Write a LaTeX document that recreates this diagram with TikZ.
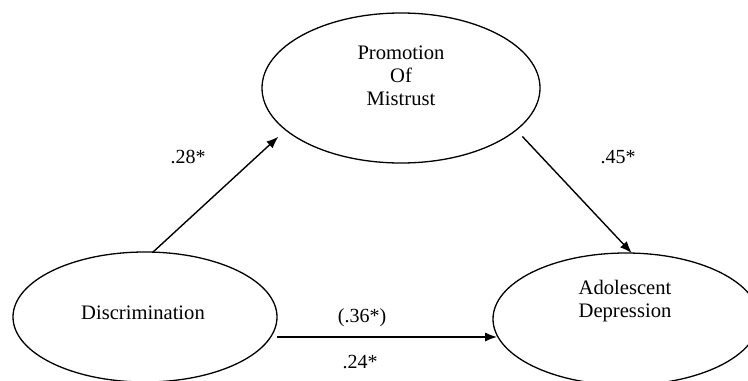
\documentclass[tikz,border=0pt]{standalone}
\usepackage{fontspec}
\setmainfont{Liberation Serif}
\usetikzlibrary{shapes.geometric,arrows.meta,calc}
\begin{document}
\begin{tikzpicture}[x=0.5pt,y=-0.5pt,
  oval/.style={draw, ellipse, line width=0.65pt, inner sep=0pt, outer sep=0pt},
  txt/.style={font=\fontsize{10.3}{11.5}\selectfont, align=center, inner sep=0pt},
  lab/.style={font=\fontsize{10}{12}\selectfont, inner sep=0pt},
  arr/.style={-{Latex[length=6pt,width=4.6pt]}, line width=0.7pt}]
\useasboundingbox (0,0) rectangle (748,380);
\clip (0,0) rectangle (748,380);
\node[oval, minimum width=139pt, minimum height=75pt] (pm) at (401,88) {};
\node[oval, minimum width=132pt, minimum height=65pt] (disc) at (145,317) {};
\node[oval, minimum width=133pt, minimum height=66pt] (adol) at (626,319) {};
\node[txt] (pmtxt) at (401,76) {Promotion\\Of\\Mistrust};
\node[txt] (disctxt) at (143,313) {Discrimination};
\node[txt] (adoltxt) at (625,301) {Adolescent\\Depression};
\draw[arr, shorten >=5pt] (disc.83) -- (pm.200);
\draw[arr, shorten <=4.5pt] (pm.340) -- (adol.85);
\coordinate (h1) at ($(disc.east)+(0,20)$);
\draw[arr] (h1) -- ([xshift=2pt]h1 -| adol.west);
\node[lab] (l28) at (188,157) {.28*};
\node[lab] (l45) at (618,157) {.45*};
\node[lab] (l36) at (362,318) {(.36*)};
\node[lab] (l24) at (360,362) {.24*};
\end{tikzpicture}
\end{document}
